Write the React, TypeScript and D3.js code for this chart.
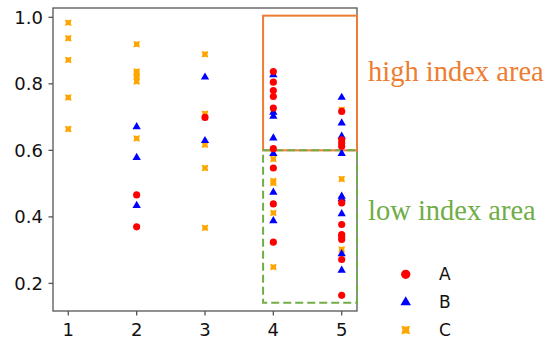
import React from "react";
import * as d3 from "d3";

const W = 547;
const H = 344;

// Series A (red circles): [x, y]
const seriesA: [number, number][] = [
  [2, 0.466], [2, 0.37],
  [3, 0.699],
  [4, 0.837], [4, 0.805], [4, 0.78], [4, 0.762], [4, 0.727], [4, 0.605], [4, 0.547], [4, 0.439], [4, 0.324],
  [5, 0.717], [5, 0.632], [5, 0.622], [5, 0.612], [5, 0.442], [5, 0.377], [5, 0.347], [5, 0.34], [5, 0.332], [5, 0.272], [5, 0.164],
];
// Series B (blue triangles)
const seriesB: [number, number][] = [
  [2, 0.671], [2, 0.578], [2, 0.434],
  [3, 0.82], [3, 0.629],
  [4, 0.827], [4, 0.714], [4, 0.702], [4, 0.637], [4, 0.59], [4, 0.474], [4, 0.388],
  [5, 0.759], [5, 0.682], [5, 0.642], [5, 0.59], [5, 0.462], [5, 0.454], [5, 0.409], [5, 0.289], [5, 0.239],
];
// Series C (orange markers)
const seriesC: [number, number][] = [
  [1, 0.984], [1, 0.937], [1, 0.872], [1, 0.759], [1, 0.664],
  [2, 0.919], [2, 0.837], [2, 0.83], [2, 0.822], [2, 0.807], [2, 0.636],
  [3, 0.889], [3, 0.71], [3, 0.617], [3, 0.547], [3, 0.367],
  [4, 0.719], [4, 0.574], [4, 0.508], [4, 0.502], [4, 0.412], [4, 0.249],
  [5, 0.722], [5, 0.514], [5, 0.302],
];

const xTicks = [1, 2, 3, 4, 5];
const yTicks = [0.2, 0.4, 0.6, 0.8, 1.0];
const legendLabels = ["A", "B", "C"];

// Highlight areas: [x0, x1, yTop, yBottom] in data units
const highArea = [3.85, 5.224, 1.005, 0.6];
const lowArea = [3.85, 5.224, 0.6, 0.142];
const highLabel = "high index area";
const lowLabel = "low index area";

const RED = "#ff0000";
const BLUE = "#0000ff";
const ORANGE = "#ffa500";
const AREA_ORANGE = "#ed7d31";
const AREA_GREEN = "#70ad47";

const x = d3.scaleLinear().domain([0.776, 5.224]).range([53, 357]);
const y = d3.scaleLinear().domain([0.117, 1.028]).range([311, 8]);

const circlePath = d3.symbol(d3.symbolCircle, 40)()!;
const triPath = d3.symbol(d3.symbolTriangle, 30)()!;
const circleLeg = d3.symbol(d3.symbolCircle, 68)()!;
const triLeg = d3.symbol(d3.symbolTriangle, 48)()!;

function cMarker(s: number) {
  // filled square with slightly notched sides (matplotlib-like small 'X')
  const h = s / 2;
  const n = s * 0.12;
  return `M${-h},${-h}L0,${-h + n}L${h},${-h}L${h - n},0L${h},${h}L0,${h - n}L${-h},${h}L${-h + n},0Z`;
}
const cPath = cMarker(6.5);
const cLeg = cMarker(8.5);

export default function App() {
  const tickFont = "DejaVu Sans, sans-serif";
  return (
    <svg
      width={W}
      height={H}
      style={{ position: "absolute", left: 0, top: 0, background: "#fff" }}
    >
      <rect x={0} y={0} width={W} height={H} fill="#fff" />
      {/* spines */}
      <rect
        x={x.range()[0]}
        y={y.range()[1]}
        width={x.range()[1] - x.range()[0]}
        height={y.range()[0] - y.range()[1]}
        fill="none"
        stroke="#555"
        strokeWidth={1.3}
      />
      {/* y ticks */}
      {yTicks.map((t) => (
        <g key={"y" + t}>
          <line x1={48.5} x2={53} y1={y(t)} y2={y(t)} stroke="#555" strokeWidth={1.3} />
          <text
            x={43}
            y={y(t)}
            dy="0.36em"
            textAnchor="end"
            fontFamily={tickFont}
            fontSize={18}
            fill="#111"
          >
            {t.toFixed(1)}
          </text>
        </g>
      ))}
      {/* x ticks */}
      {xTicks.map((t) => (
        <g key={"x" + t}>
          <line x1={x(t)} x2={x(t)} y1={311} y2={315.5} stroke="#555" strokeWidth={1.3} />
          <text
            x={x(t)}
            y={336}
            textAnchor="middle"
            fontFamily={tickFont}
            fontSize={18}
            fill="#111"
          >
            {t}
          </text>
        </g>
      ))}
      {/* areas */}
      <rect
        x={x(highArea[0])}
        y={y(highArea[2])}
        width={x(highArea[1]) - x(highArea[0])}
        height={y(highArea[3]) - y(highArea[2])}
        fill="none"
        stroke={AREA_ORANGE}
        strokeWidth={2}
      />
      <rect
        x={x(lowArea[0])}
        y={y(lowArea[2])}
        width={x(lowArea[1]) - x(lowArea[0])}
        height={y(lowArea[3]) - y(lowArea[2])}
        fill="none"
        stroke={AREA_GREEN}
        strokeWidth={2}
        strokeDasharray="8,4"
      />
      {/* points */}
      {seriesC.map((d, i) => (
        <path
          key={"c" + i}
          d={cPath}
          transform={`translate(${x(d[0])},${y(d[1])})`}
          fill={ORANGE}
        />
      ))}
      {seriesB.map((d, i) => (
        <path
          key={"b" + i}
          d={triPath}
          transform={`translate(${x(d[0])},${y(d[1])})`}
          fill={BLUE}
        />
      ))}
      {seriesA.map((d, i) => (
        <path
          key={"a" + i}
          d={circlePath}
          transform={`translate(${x(d[0])},${y(d[1])})`}
          fill={RED}
        />
      ))}
      {/* area labels */}
      <text
        x={368}
        y={80.7}
        fontFamily="Liberation Serif, Times New Roman, serif"
        fontSize={28.5}
        fill={AREA_ORANGE}
      >
        {highLabel}
      </text>
      <text
        x={368}
        y={220}
        fontFamily="Liberation Serif, Times New Roman, serif"
        fontSize={28.5}
        fill={AREA_GREEN}
      >
        {lowLabel}
      </text>
      {/* legend */}
      {legendLabels.map((lab, i) => {
        const ly = [274.3, 302.3, 330][i];
        const p = [circleLeg, triLeg, cLeg][i];
        const c = [RED, BLUE, ORANGE][i];
        return (
          <g key={lab}>
            <path d={p} transform={`translate(405.7,${ly})`} fill={c} />
            <text
              x={439}
              y={ly}
              dy="0.36em"
              fontFamily={tickFont}
              fontSize={17}
              fill="#111"
            >
              {lab}
            </text>
          </g>
        );
      })}
    </svg>
  );
}
